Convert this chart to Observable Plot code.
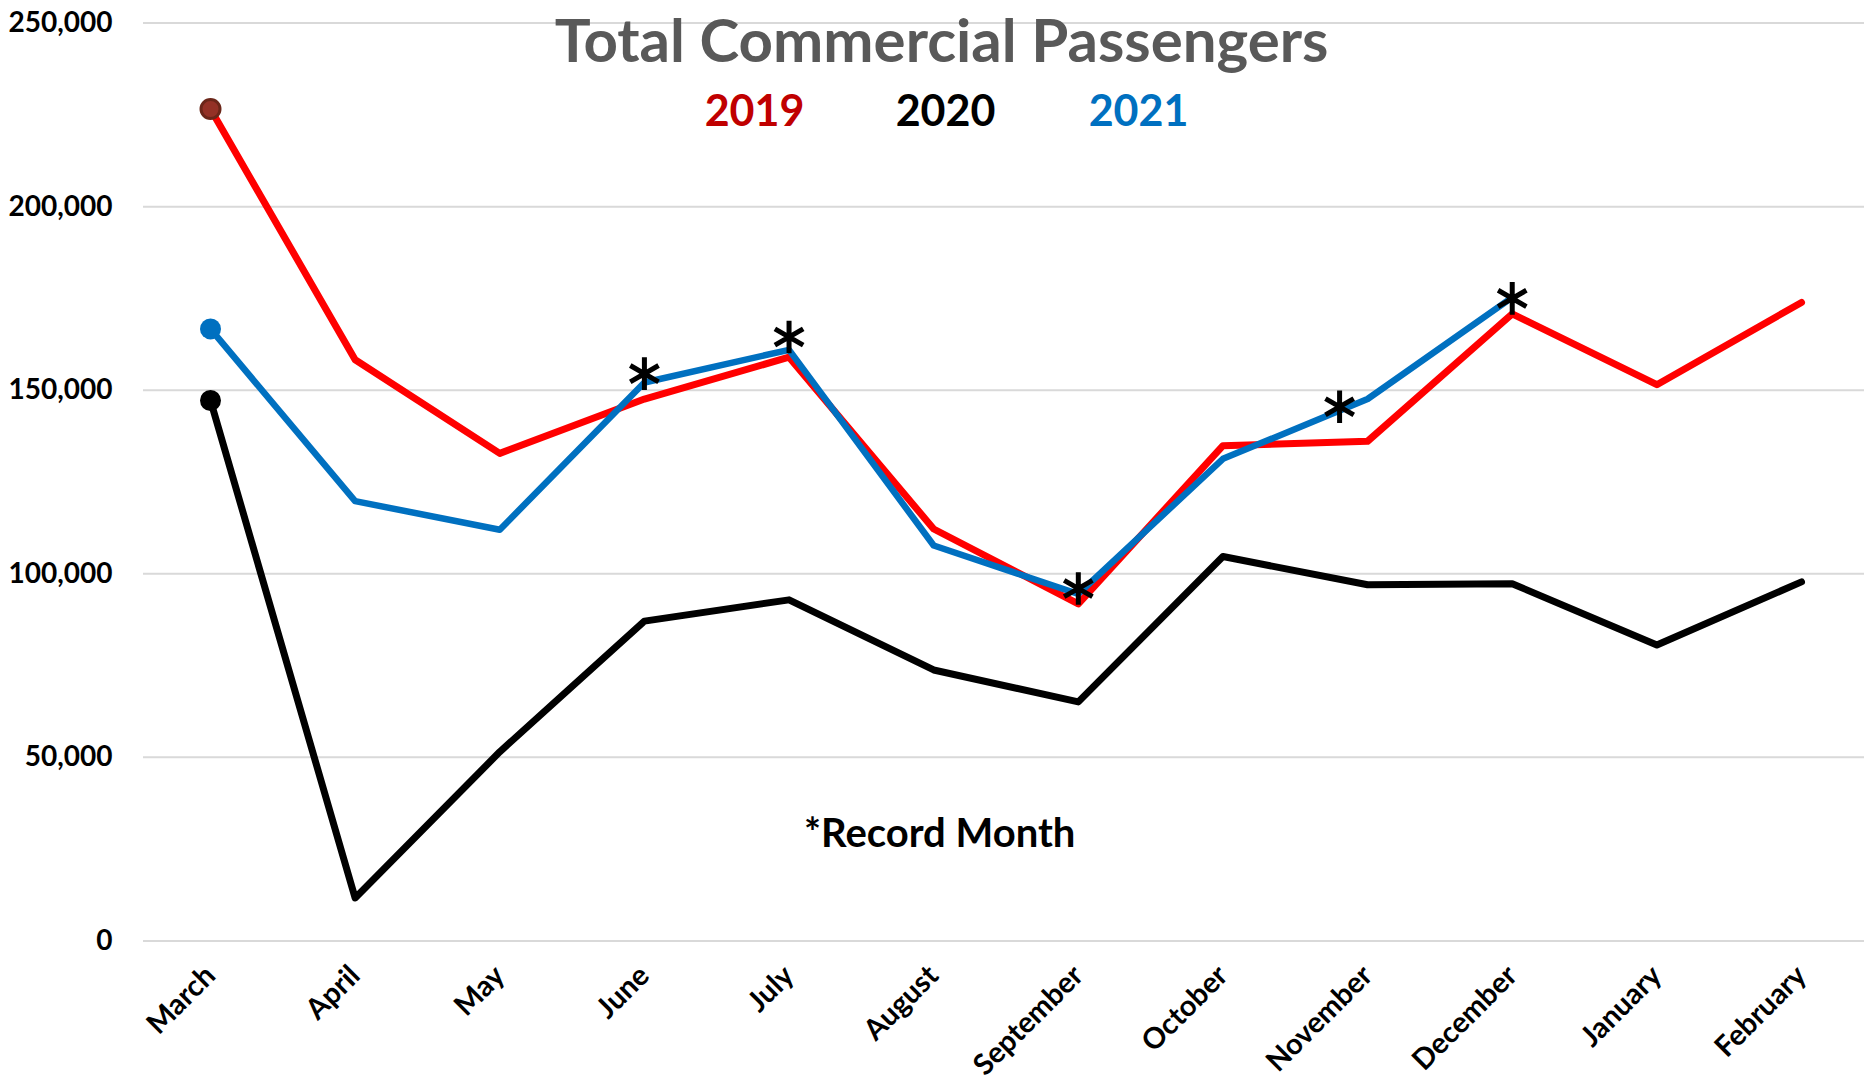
<!DOCTYPE html>
<html>
<head>
<meta charset="utf-8">
<script src="https://cdn.jsdelivr.net/npm/d3@7"></script>
<script src="https://cdn.jsdelivr.net/npm/@observablehq/plot@0.6"></script>
<style>
  html, body { margin: 0; padding: 0; background: #fff; }
  #chart svg { display: block; }
</style>
</head>
<body>
<div id="chart"></div>
<script>
const months = ["March","April","May","June","July","August","September","October","November","December","January","February"];
const y2019 = [226600, 158300, 132800, 147600, 159000, 112200, 91800, 134900, 136100, 170800, 151500, 173900];
const y2020 = [147200, 11700, 51500, 87100, 92900, 73800, 65100, 104700, 97000, 97300, 80600, 97800];
const y2021 = [166700, 119800, 112000, 152100, 161000, 107700, 94500, 131300, 147600, 175300];
const yTicks = [0, 50000, 100000, 150000, 200000, 250000];
const recordMonths = ["June", "July", "September", "November", "December"];
const recordMarks = [154500, 164500, 96000, 145500, 175000];
const titleText = "Total Commercial Passengers";
const legendYears = ["2019", "2020", "2021"];
const noteText = "*Record Month";

const toRows = (arr, series) => arr.map((v, i) => ({month: months[i], value: v, series}));
const r2019 = toRows(y2019, "2019");
const r2020 = toRows(y2020, "2020");
const r2021 = toRows(y2021, "2021");
const records = recordMonths.map((m, i) => ({month: m, value: recordMarks[i]}));

const font = "Lato, 'Open Sans', sans-serif";

const chart = Plot.plot({
  width: 1864,
  height: 1081,
  marginLeft: 143,
  marginRight: 0,
  marginTop: 22.6,
  marginBottom: 140.6,
  style: {fontFamily: font, background: "#fff", color: "#000"},
  x: {type: "point", domain: months, padding: 0, round: false, insetLeft: 67, insetRight: 63, label: null},
  y: {domain: [0, 250000], ticks: yTicks, label: null},
  marks: [
    Plot.ruleY(yTicks, {stroke: "#D9D9D9", strokeWidth: 2}),
    Plot.axisY(yTicks, {tickSize: 0, tickPadding: 31, tickFormat: d3.format(","), fontSize: 28, fontWeight: "bold", fill: "#000", label: null}),
    Plot.axisX({tickSize: 0, tickPadding: 30, tickRotate: -45, fontSize: 29, fontWeight: "bold", fill: "#000", label: null}),
    Plot.line(r2020, {x: "month", y: "value", stroke: "#000000", strokeWidth: 7, strokeLinejoin: "round"}),
    Plot.line(r2019, {x: "month", y: "value", stroke: "#FF0000", strokeWidth: 7, strokeLinejoin: "round"}),
    Plot.line(r2021, {x: "month", y: "value", stroke: "#0070C0", strokeWidth: 6.5, strokeLinejoin: "round"}),
    Plot.dot(r2019.slice(0, 1), {x: "month", y: "value", r: 9.5, fill: "#943126", stroke: "#6B2619", strokeWidth: 3}),
    Plot.dot(r2020.slice(0, 1), {x: "month", y: "value", r: 10.5, fill: "#000000"}),
    Plot.dot(r2021.slice(0, 1), {x: "month", y: "value", r: 10.5, fill: "#0070C0"}),
    Plot.dot(records.slice(0, 3), {x: "month", y: "value", symbol: "asterisk", r: 15.5, stroke: "#000", strokeWidth: 5}),
    Plot.dot(records.slice(3, 4), {x: "month", y: "value", symbol: "asterisk", r: 15.5, stroke: "#000", strokeWidth: 5, dx: -28}),
    Plot.dot(records.slice(4), {x: "month", y: "value", symbol: "asterisk", r: 15.5, stroke: "#000", strokeWidth: 5}),
    Plot.text([noteText], {x: () => "August", y: () => 25500, text: d => d, dx: 6, lineAnchor: "bottom", fontSize: 40, fontWeight: "bold", fill: "#000"}),
    Plot.text([titleText], {frameAnchor: "top", text: d => d, dx: -62.5, dy: 38.4, lineAnchor: "bottom", fontSize: 60, fontWeight: "bold", fill: "#595959"}),
    Plot.text([legendYears[0]], {frameAnchor: "top", text: d => d, dx: -249.5, dy: 102.4, lineAnchor: "bottom", fontSize: 43, fontWeight: "bold", fill: "#C00000"}),
    Plot.text([legendYears[1]], {frameAnchor: "top", text: d => d, dx: -58.5, dy: 102.4, lineAnchor: "bottom", fontSize: 43, fontWeight: "bold", fill: "#000000"}),
    Plot.text([legendYears[2]], {frameAnchor: "top", text: d => d, dx: 134.5, dy: 102.4, lineAnchor: "bottom", fontSize: 43, fontWeight: "bold", fill: "#0070C0"})
  ]
});
document.getElementById("chart").appendChild(chart);
</script>
</body>
</html>
